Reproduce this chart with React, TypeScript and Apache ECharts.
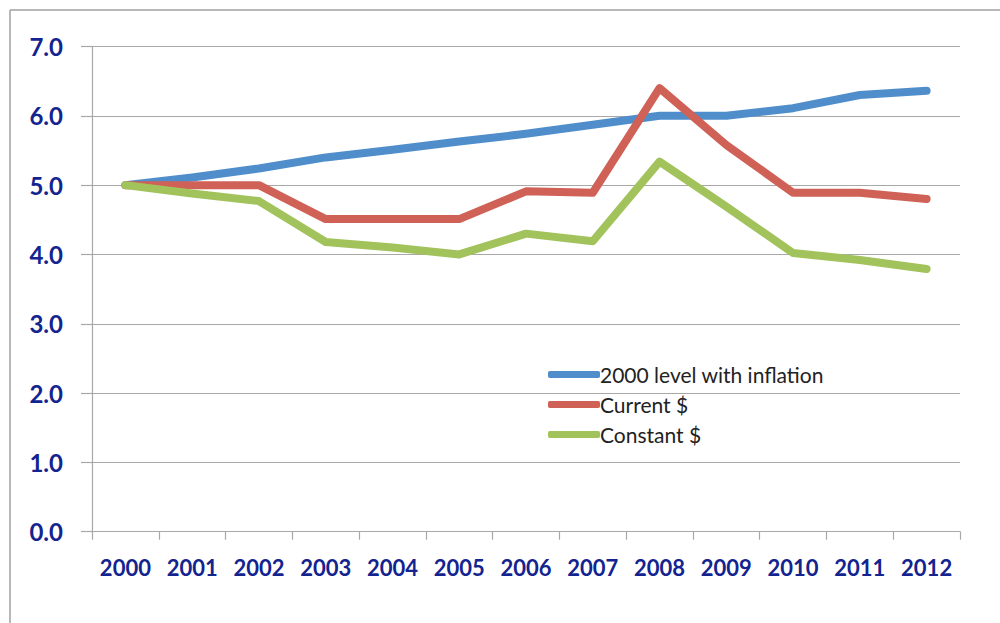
import React, { useEffect, useRef } from "react";
import * as echarts from "echarts";

// Categories and series values
const years = ["2000", "2001", "2002", "2003", "2004", "2005", "2006", "2007", "2008", "2009", "2010", "2011", "2012"];
const inflationLevel = [5.0, 5.11, 5.24, 5.4, 5.51, 5.63, 5.74, 5.87, 6.0, 6.0, 6.11, 6.3, 6.36];
const currentDollars = [5.0, 5.0, 5.0, 4.51, 4.51, 4.51, 4.91, 4.89, 6.4, 5.58, 4.89, 4.89, 4.8];
const constantDollars = [5.0, 4.88, 4.77, 4.18, 4.1, 4.0, 4.3, 4.19, 5.34, 4.69, 4.02, 3.92, 3.79];

const seriesNames = ["2000 level with inflation", "Current $", "Constant $"];
const seriesColors = ["#4f8ecb", "#cf6157", "#a2c35b"];

const labelColor = "#13238f";
const gridColor = "#a8a8a8";

export default function App() {
  const ref = useRef<HTMLDivElement>(null);

  useEffect(() => {
    if (!ref.current) return;
    const chart = echarts.init(ref.current, null, { renderer: "svg" });
    const values = [inflationLevel, currentDollars, constantDollars];

    chart.setOption({
      animation: false,
      backgroundColor: "#ffffff",
      grid: { left: 92, right: 40, top: 46.5, bottom: 91.3, containLabel: false },
      legend: {
        orient: "vertical",
        left: 548,
        top: 364,
        padding: 0,
        icon: "roundRect",
        itemWidth: 52,
        itemHeight: 7,
        itemGap: 9,
        data: seriesNames,
        textStyle: {
          fontFamily: "Lato",
          fontSize: 21,
          lineHeight: 20,
          color: "#222222",
          padding: [0, 0, 0, -5],
        },
      },
      xAxis: {
        type: "category",
        data: years,
        boundaryGap: true,
        axisLine: { show: true, lineStyle: { color: gridColor, width: 1.2 } },
        axisTick: { show: true, length: 8, lineStyle: { color: gridColor, width: 1.2 } },
        axisLabel: {
          color: labelColor,
          fontFamily: "Lato",
          fontWeight: "bold",
          fontSize: 22,
          margin: 25,
        },
      },
      yAxis: {
        type: "value",
        min: 0,
        max: 7,
        interval: 1,
        axisLine: { show: true, lineStyle: { color: gridColor, width: 1.2 } },
        axisTick: { show: true, inside: false, length: 11, lineStyle: { color: gridColor, width: 1.2 } },
        splitLine: { show: true, lineStyle: { color: gridColor, width: 1.2 } },
        axisLabel: {
          color: labelColor,
          fontFamily: "Lato",
          fontWeight: "bold",
          fontSize: 24,
          margin: 29,
          formatter: (v: number) => v.toFixed(1),
        },
      },
      series: seriesNames.map((name, i) => ({
        name,
        type: "line",
        data: values[i],
        symbol: "none",
        color: seriesColors[i],
        lineStyle: { color: seriesColors[i], width: 8, cap: "round", join: "round" },
        itemStyle: { color: seriesColors[i] },
        z: 2 + i,
      })),
      graphic: [
        {
          type: "line",
          shape: { x1: 10, y1: 10, x2: 1000, y2: 10 },
          style: { stroke: "#a0a0a0", lineWidth: 1.5 },
          silent: true,
        },
        {
          type: "line",
          shape: { x1: 10, y1: 10, x2: 10, y2: 623 },
          style: { stroke: "#a0a0a0", lineWidth: 1.5 },
          silent: true,
        },
      ],
    });

    return () => chart.dispose();
  }, []);

  return (
    <div
      ref={ref}
      style={{ position: "fixed", left: 0, top: 0, width: 1000, height: 623 }}
    />
  );
}
